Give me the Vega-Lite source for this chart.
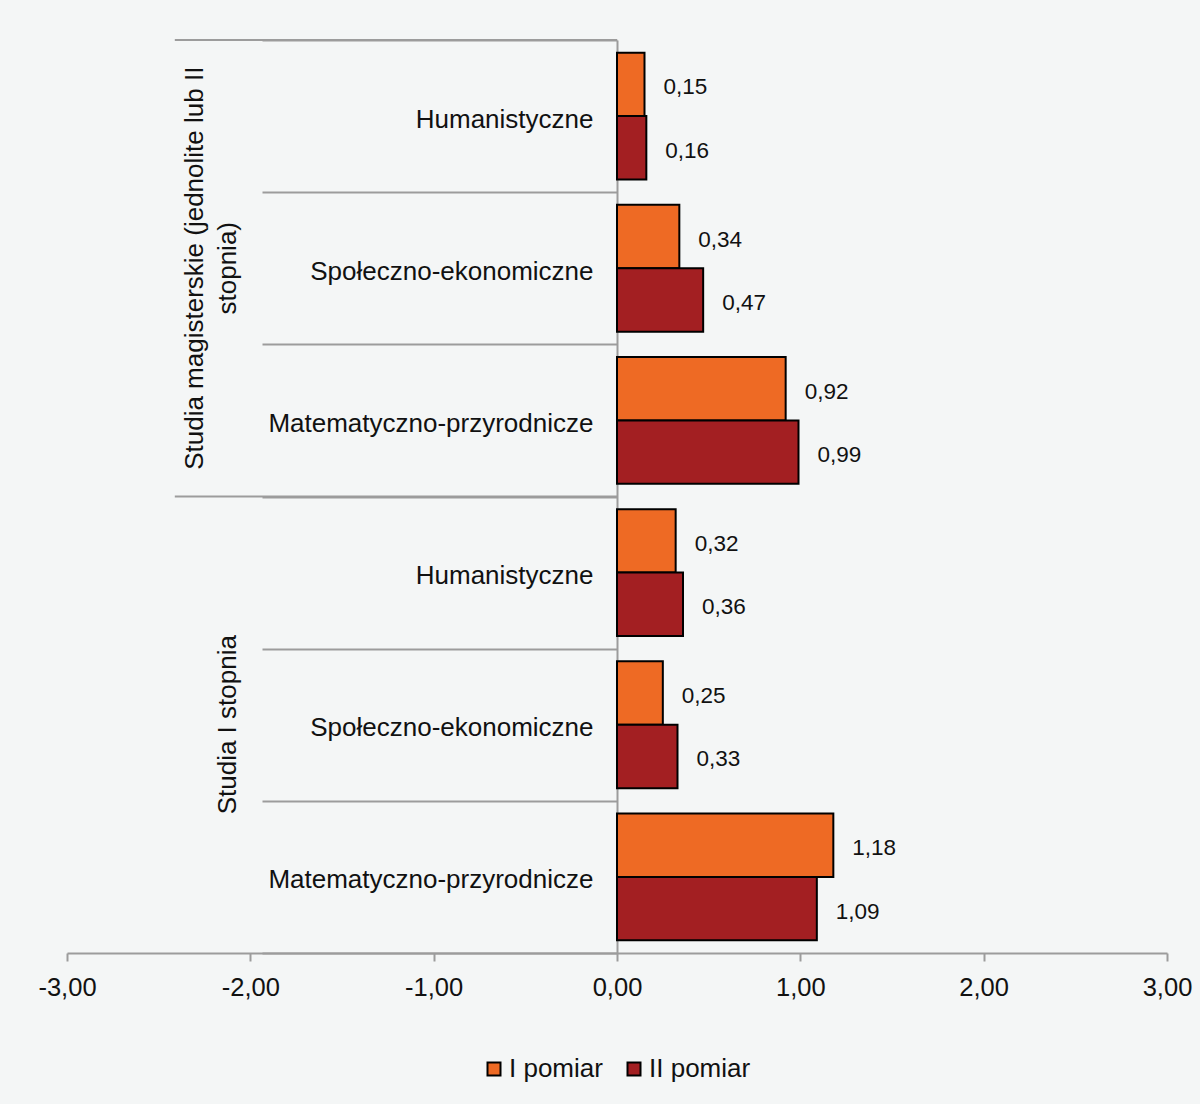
{
  "$schema": "https://vega.github.io/schema/vega-lite/v6.json",
  "width": 1100,
  "height": 913,
  "autosize": {"type": "none"},
  "padding": {"left": 67, "top": 40, "right": 33, "bottom": 151},
  "background": "#f4f6f6",
  "config": {
    "locale": {"number": {"decimal": ",", "thousands": " ", "grouping": [3], "currency": ["", " zł"], "minus": "-"}},
    "view": {"stroke": null},
    "font": "Liberation Sans"
  },
  "datasets": {
    "bars": [
      {"key": "M|Humanistyczne", "series": "I pomiar", "value": 0.15},
      {"key": "M|Humanistyczne", "series": "II pomiar", "value": 0.16},
      {"key": "M|Społeczno-ekonomiczne", "series": "I pomiar", "value": 0.34},
      {"key": "M|Społeczno-ekonomiczne", "series": "II pomiar", "value": 0.47},
      {"key": "M|Matematyczno-przyrodnicze", "series": "I pomiar", "value": 0.92},
      {"key": "M|Matematyczno-przyrodnicze", "series": "II pomiar", "value": 0.99},
      {"key": "I|Humanistyczne", "series": "I pomiar", "value": 0.32},
      {"key": "I|Humanistyczne", "series": "II pomiar", "value": 0.36},
      {"key": "I|Społeczno-ekonomiczne", "series": "I pomiar", "value": 0.25},
      {"key": "I|Społeczno-ekonomiczne", "series": "II pomiar", "value": 0.33},
      {"key": "I|Matematyczno-przyrodnicze", "series": "I pomiar", "value": 1.18},
      {"key": "I|Matematyczno-przyrodnicze", "series": "II pomiar", "value": 1.09}
    ],
    "group1": [
      {"key": "M|Społeczno-ekonomiczne", "label": "Studia magisterskie (jednolite lub II\nstopnia)"}
    ],
    "group2": [
      {"key": "I|Społeczno-ekonomiczne", "label": "Studia I stopnia"}
    ],
    "seps": [
      {"key": "M|Humanistyczne"},
      {"key": "I|Humanistyczne"}
    ]
  },
  "layer": [
    {
      "data": {"name": "seps"},
      "mark": {"type": "rule", "color": "#9c9c9c", "strokeWidth": 2},
      "encoding": {
        "y": {"field": "key", "type": "nominal", "bandPosition": 0,
              "scale": {"domain": ["M|Humanistyczne", "M|Społeczno-ekonomiczne", "M|Matematyczno-przyrodnicze", "I|Humanistyczne", "I|Społeczno-ekonomiczne", "I|Matematyczno-przyrodnicze"], "paddingInner": 0, "paddingOuter": 0}},
        "x": {"datum": -2.412, "type": "quantitative"},
        "x2": {"datum": 0}
      }
    },
    {
      "data": {"name": "bars"},
      "mark": {"type": "bar", "stroke": "#000000", "strokeWidth": 2},
      "encoding": {
        "y": {"field": "key", "type": "nominal",
              "scale": {"domain": ["M|Humanistyczne", "M|Społeczno-ekonomiczne", "M|Matematyczno-przyrodnicze", "I|Humanistyczne", "I|Społeczno-ekonomiczne", "I|Matematyczno-przyrodnicze"], "paddingInner": 0, "paddingOuter": 0},
              "axis": {"title": null, "offset": -550, "labelExpr": "split(datum.value, '|')[1]", "tickBand": "extent", "tickSize": 355, "tickColor": "#9c9c9c", "tickWidth": 2, "domainColor": "#9c9c9c", "domainWidth": 2, "labelPadding": -331, "labelOffset": 3, "labelFontSize": 26, "labelColor": "#111111", "labelLimit": 0}},
        "yOffset": {"field": "series", "type": "nominal", "scale": {"domain": ["I pomiar", "II pomiar"], "paddingInner": 0, "paddingOuter": 0.2}},
        "x": {"field": "value", "type": "quantitative",
              "scale": {"domain": [-3, 3], "nice": false, "zero": false},
              "axis": {"title": null, "values": [-3, -2, -1, 0, 1, 2, 3], "format": ".2f", "grid": false, "tickSize": 8, "tickColor": "#9c9c9c", "tickWidth": 2, "domainColor": "#9c9c9c", "domainWidth": 2, "labelFontSize": 25.5, "labelPadding": 14, "labelColor": "#111111", "labelFlush": false, "labelOverlap": false}},
        "color": {"field": "series", "type": "nominal",
                  "scale": {"domain": ["I pomiar", "II pomiar"], "range": ["#ee6a24", "#a31f22"]},
                  "legend": {"title": null, "orient": "none", "legendX": 414, "legendY": 1016, "direction": "horizontal", "symbolType": "square", "symbolSize": 169, "symbolStrokeColor": "#000000", "symbolStrokeWidth": 2, "labelFontSize": 26, "labelColor": "#111111", "columnPadding": 18, "labelOffset": 2}}
      }
    },
    {
      "data": {"name": "bars"},
      "mark": {"type": "text", "align": "left", "baseline": "middle", "dx": 19, "dy": 3, "font": "Liberation Sans Narrow, Liberation Sans", "fontSize": 22.5, "color": "#111111"},
      "encoding": {
        "y": {"field": "key", "type": "nominal",
              "scale": {"domain": ["M|Humanistyczne", "M|Społeczno-ekonomiczne", "M|Matematyczno-przyrodnicze", "I|Humanistyczne", "I|Społeczno-ekonomiczne", "I|Matematyczno-przyrodnicze"], "paddingInner": 0, "paddingOuter": 0}},
        "yOffset": {"field": "series", "type": "nominal", "scale": {"domain": ["I pomiar", "II pomiar"], "paddingInner": 0, "paddingOuter": 0.2}},
        "x": {"field": "value", "type": "quantitative"},
        "text": {"field": "value", "type": "quantitative", "format": ".2f"}
      }
    },
    {
      "data": {"name": "group1"},
      "mark": {"type": "text", "angle": 270, "align": "center", "baseline": "bottom", "lineBreak": "\n", "lineHeight": 33, "fontSize": 26, "color": "#111111"},
      "encoding": {
        "y": {"field": "key", "type": "nominal",
              "scale": {"domain": ["M|Humanistyczne", "M|Społeczno-ekonomiczne", "M|Matematyczno-przyrodnicze", "I|Humanistyczne", "I|Społeczno-ekonomiczne", "I|Matematyczno-przyrodnicze"], "paddingInner": 0, "paddingOuter": 0}},
        "x": {"datum": -2.23, "type": "quantitative"},
        "text": {"field": "label", "type": "nominal"}
      }
    },
    {
      "data": {"name": "group2"},
      "mark": {"type": "text", "angle": 270, "align": "center", "baseline": "bottom", "fontSize": 26, "color": "#111111"},
      "encoding": {
        "y": {"field": "key", "type": "nominal",
              "scale": {"domain": ["M|Humanistyczne", "M|Społeczno-ekonomiczne", "M|Matematyczno-przyrodnicze", "I|Humanistyczne", "I|Społeczno-ekonomiczne", "I|Matematyczno-przyrodnicze"], "paddingInner": 0, "paddingOuter": 0}},
        "x": {"datum": -2.05, "type": "quantitative"},
        "text": {"field": "label", "type": "nominal"}
      }
    }
  ]
}
